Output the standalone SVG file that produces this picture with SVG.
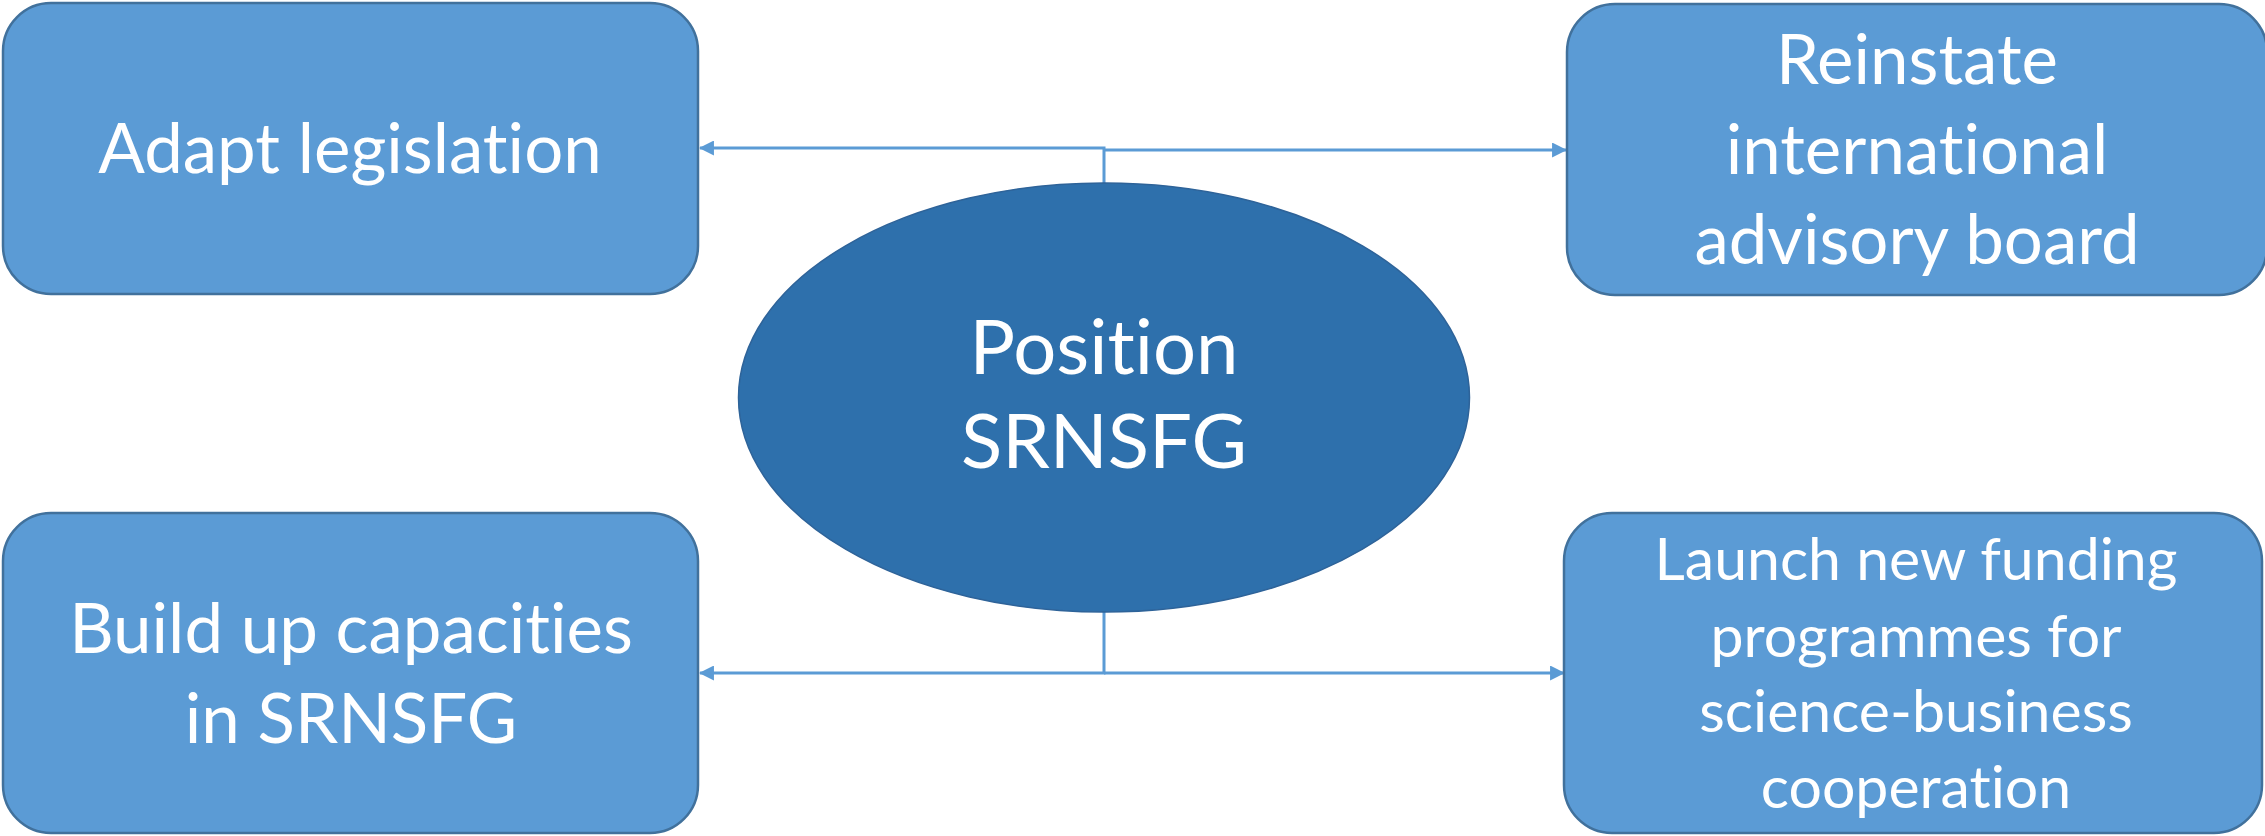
<svg xmlns="http://www.w3.org/2000/svg" width="2265" height="836" viewBox="0 0 2265 836">
<defs>
<style>
.box{fill:#5B9BD5;stroke:#41719C;stroke-width:2.5}
.ell{fill:#2E70AC;stroke:#2E6399;stroke-width:1.5}
.t{font-family:Lato,"Open Sans","Liberation Sans",sans-serif;fill:#FFFFFF;text-anchor:middle;font-variant-ligatures:none;font-feature-settings:"liga" 0}
.big{font-size:69px}
.mid{font-size:69px}
.sm{font-size:59px}
.ctr{font-size:76px}
.ln{fill:none;stroke:#5B9BD5;stroke-width:3}
</style>
<marker id="arr" viewBox="0 0 14 14" refX="13" refY="7" markerWidth="15" markerHeight="15" markerUnits="userSpaceOnUse" orient="auto">
<path d="M0,0 L14,7 L0,14 Z" fill="#5B9BD5"/>
</marker>
</defs>
<rect width="2265" height="836" fill="#FFFFFF"/>
<g id="connectors">
<path class="ln" d="M1104,183 V148 H700" marker-end="url(#arr)"/>
<path class="ln" d="M1104,150 H1566" marker-end="url(#arr)"/>
<path class="ln" d="M1104,612 V673 H700" marker-end="url(#arr)"/>
<path class="ln" d="M1104,673 H1564" marker-end="url(#arr)"/>
</g>
<g id="node-adapt">
<rect class="box" x="3" y="3" width="695" height="291" rx="48" ry="48"/>
<text class="t big" x="350" y="173">Adapt legislation</text>
</g>
<g id="node-reinstate">
<rect class="box" x="1567" y="4" width="700" height="291" rx="48" ry="48"/>
<text class="t mid" x="1917" y="84">Reinstate</text>
<text class="t mid" x="1917" y="174">international</text>
<text class="t mid" x="1917" y="264">advisory board</text>
</g>
<g id="node-capacities">
<rect class="box" x="3" y="513" width="695" height="320" rx="48" ry="48"/>
<text class="t big" x="351" y="653">Build up capacities</text>
<text class="t big" x="351" y="743">in SRNSFG</text>
</g>
<g id="node-funding">
<rect class="box" x="1564" y="513" width="698" height="320" rx="48" ry="48"/>
<text class="t sm" x="1916" y="580">Launch new funding</text>
<text class="t sm" x="1916" y="657">programmes for</text>
<text class="t sm" x="1916" y="732">science-business</text>
<text class="t sm" x="1916" y="808">cooperation</text>
</g>
<g id="node-position">
<ellipse class="ell" cx="1104" cy="397.5" rx="365.5" ry="214.5"/>
<text class="t ctr" x="1104" y="374">Position</text>
<text class="t ctr" x="1104" y="468">SRNSFG</text>
</g>
</svg>
